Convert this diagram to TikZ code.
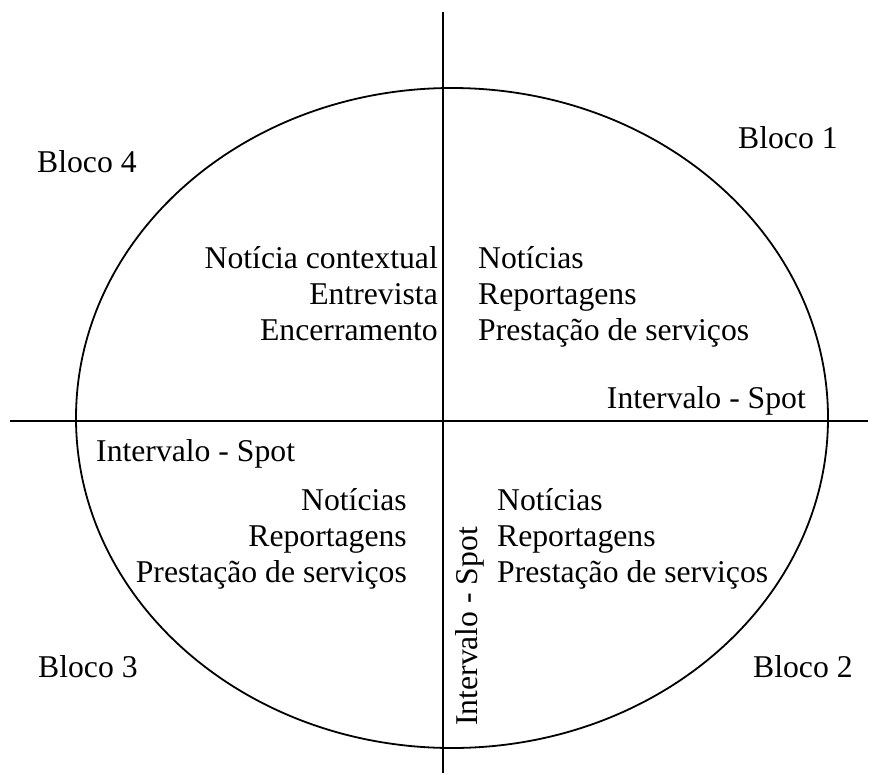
\documentclass[tikz,border=0pt]{standalone}
\usepackage{fontspec}
\setmainfont{Liberation Serif}
\begin{document}
\begin{tikzpicture}[x=1bp,y=-1bp,
  line/.style={line width=1.8bp,black},
  txt/.style={inner sep=0pt,font=\fontsize{31.8}{36}\selectfont},
  lft/.style={txt,anchor=base west},
  rgt/.style={txt,anchor=base east}]
\useasboundingbox (0,0) rectangle (878,775);
% axes and ellipse
\coordinate (vt) at (443,12);
\coordinate (vb) at (443,773);
\coordinate (hl) at (10,421);
\coordinate (hr) at (868,421);
\draw[line] (452,418) ellipse [x radius=376, y radius=330];
\draw[line] (vt) -- (vb);
\draw[line] (hl) -- (hr);
% block labels
\node[lft] (b1) at (738,148) {Bloco 1};
\node[lft] (b4) at (37,172) {Bloco 4};
\node[lft] (b3) at (38,677) {Bloco 3};
\node[lft] (b2) at (753,677) {Bloco 2};
% quadrant 1
\node[lft] (q1a) at (478,268) {Notícias};
\node[lft] (q1b) at (478,304) {Reportagens};
\node[lft] (q1c) at (478,340) {Prestação de serviços};
\node[rgt] (i1) at (806,408) {Intervalo - Spot};
% quadrant 4
\node[rgt] (q4a) at (438,268) {Notícia contextual};
\node[rgt] (q4b) at (438,304) {Entrevista};
\node[rgt] (q4c) at (438,340) {Encerramento};
% quadrant 3
\node[lft] (i3) at (96,461) {Intervalo - Spot};
\node[rgt] (q3a) at (407,510) {Notícias};
\node[rgt] (q3b) at (407,546) {Reportagens};
\node[rgt] (q3c) at (407,582) {Prestação de serviços};
% quadrant 2
\node[lft] (q2a) at (497,510) {Notícias};
\node[lft] (q2b) at (497,546) {Reportagens};
\node[lft] (q2c) at (497,582) {Prestação de serviços};
\node[lft,rotate=90] (i2) at (477,726) {Intervalo - Spot};
\end{tikzpicture}
\end{document}
